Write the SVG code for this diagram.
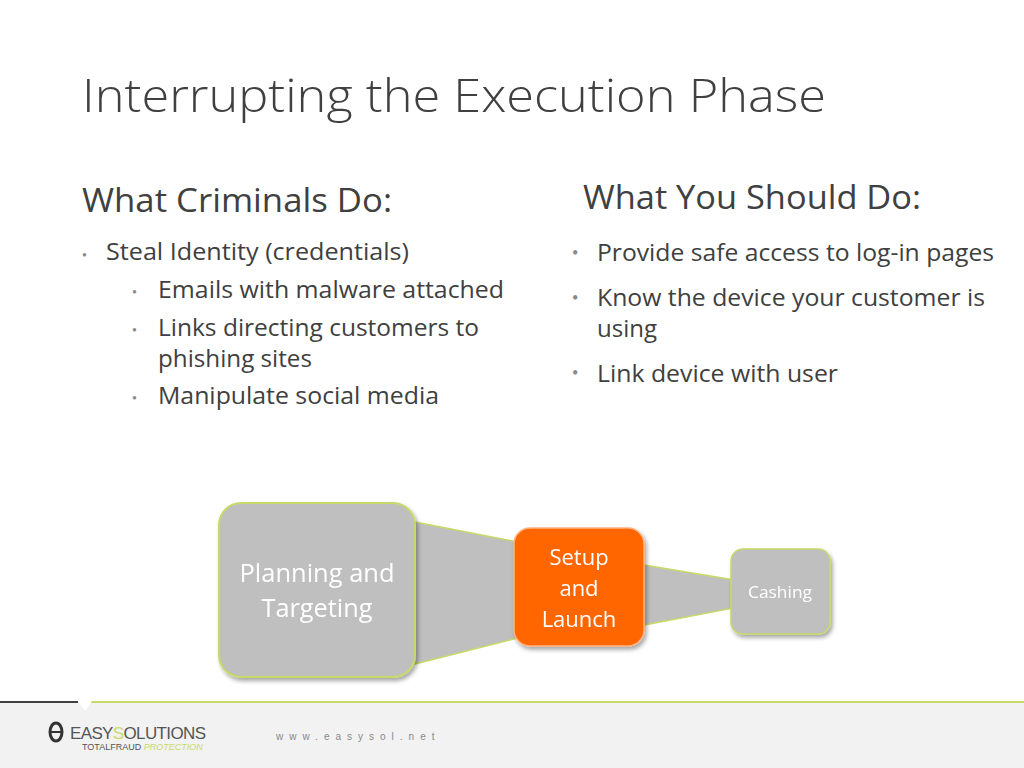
<svg xmlns="http://www.w3.org/2000/svg" width="1024" height="768" viewBox="0 0 1024 768">
<defs>
<style>
.t{font-family:"Open Sans","Liberation Sans",sans-serif;fill:#404040}
.w{font-family:"Open Sans","Liberation Sans",sans-serif;fill:#fff;text-anchor:middle}
.b{fill:#8a8a8a}
</style>
<filter id="sh" x="-10%" y="-10%" width="130%" height="130%"><feDropShadow dx="2" dy="3" stdDeviation="2" flood-color="#000" flood-opacity="0.35"/></filter>
</defs>
<rect width="1024" height="768" fill="#fff"/>
<text class="t" x="82" y="112" font-size="46" font-weight="300" textLength="744" lengthAdjust="spacingAndGlyphs">Interrupting the Execution Phase</text>
<text class="t" x="82" y="212" font-size="32" textLength="310" lengthAdjust="spacingAndGlyphs">What Criminals Do:</text>
<text class="t" x="583" y="209" font-size="32" textLength="338" lengthAdjust="spacingAndGlyphs">What You Should Do:</text>
<g font-size="23">
<text class="b" x="82" y="260" font-size="14">•</text><text class="t" x="106" y="260" textLength="303" lengthAdjust="spacingAndGlyphs">Steal Identity (credentials)</text>
<text class="b" x="132" y="297" font-size="14">•</text><text class="t" x="158" y="298" textLength="346" lengthAdjust="spacingAndGlyphs">Emails with malware attached</text>
<text class="b" x="132" y="335" font-size="14">•</text><text class="t" x="158" y="336" textLength="321" lengthAdjust="spacingAndGlyphs">Links directing customers to</text>
<text class="t" x="158" y="367" textLength="154" lengthAdjust="spacingAndGlyphs">phishing sites</text>
<text class="b" x="132" y="403" font-size="14">•</text><text class="t" x="158" y="404" textLength="281" lengthAdjust="spacingAndGlyphs">Manipulate social media</text>
<text class="b" x="572" y="259" font-size="18">•</text><text class="t" x="597" y="261" textLength="397" lengthAdjust="spacingAndGlyphs">Provide safe access to log-in pages</text>
<text class="b" x="572" y="304" font-size="18">•</text><text class="t" x="597" y="306" textLength="388" lengthAdjust="spacingAndGlyphs">Know the device your customer is</text>
<text class="t" x="597" y="337" textLength="60" lengthAdjust="spacingAndGlyphs">using</text>
<text class="b" x="572" y="379" font-size="18">•</text><text class="t" x="597" y="382" textLength="241" lengthAdjust="spacingAndGlyphs">Link device with user</text>
</g>
<g id="connectors" fill="#bfbfbf" stroke="#c8d96a" stroke-width="1.5">
<polygon points="415,522 518,542 518,638 415,664"/>
<polygon points="644,565 734,580 734,608 644,625"/>
</g>
<g id="planning" filter="url(#sh)"><rect x="219" y="503" width="196" height="174" rx="22" fill="#bfbfbf" stroke="#c8d96a" stroke-width="2"/>
<text class="w" x="317" y="582" font-size="25" textLength="155" lengthAdjust="spacingAndGlyphs">Planning and</text><text class="w" x="317" y="617" font-size="25" textLength="111" lengthAdjust="spacingAndGlyphs">Targeting</text></g>
<g id="setup" filter="url(#sh)"><rect x="514" y="528" width="130" height="118" rx="16" fill="#ff6600" stroke="#ffb380" stroke-width="1.5"/>
<text class="w" x="579" y="565" font-size="22">Setup</text><text class="w" x="579" y="596" font-size="22">and</text><text class="w" x="579" y="627" font-size="22">Launch</text></g>
<g id="cashing" filter="url(#sh)"><rect x="731" y="549" width="99" height="85" rx="12" fill="#bfbfbf" stroke="#c8d96a" stroke-width="1.5"/>
<text class="w" x="780" y="598" font-size="17" textLength="64" lengthAdjust="spacingAndGlyphs">Cashing</text></g>
<rect x="0" y="702" width="1024" height="66" fill="#f2f2f2"/>
<line x1="90" y1="702" x2="1024" y2="702" stroke="#c8d96a" stroke-width="2"/>
<line x1="0" y1="702" x2="78" y2="702" stroke="#404040" stroke-width="2"/>
<polygon points="78,701 92,701 85,711" fill="#fff"/>
<ellipse cx="56" cy="732" rx="6" ry="9" fill="none" stroke="#333" stroke-width="3"/>
<line x1="50" y1="732" x2="62" y2="732" stroke="#333" stroke-width="2"/>
<text x="70" y="739" font-family="Liberation Sans,sans-serif" font-size="17" fill="#555" textLength="136">EASY<tspan fill="#c8d96a">S</tspan>OLUTIONS</text>
<text x="82" y="750" font-family="Liberation Sans,sans-serif" font-size="9" fill="#555">TOTALFRAUD <tspan fill="#c8d96a" font-style="italic">PROTECTION</tspan></text>
<text x="276" y="740" font-family="Liberation Sans,sans-serif" font-size="10" fill="#888" letter-spacing="6">www.easysol.net</text>
</svg>
